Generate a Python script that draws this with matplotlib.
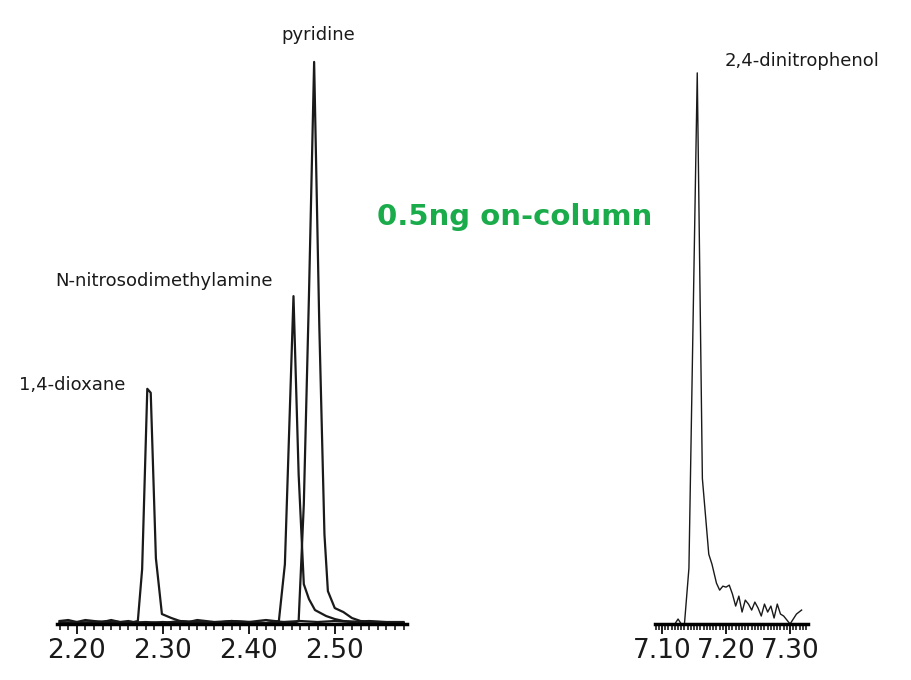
import matplotlib
matplotlib.use("Agg")
import matplotlib.pyplot as plt
from matplotlib.ticker import MultipleLocator

plt.rcParams['font.family'] = ['Liberation Sans Narrow', 'DejaVu Sans']

# ── Data (signal in arbitrary units above baseline) ─────────────────────
dioxane_t = [2.180, 2.190, 2.200, 2.210, 2.220, 2.230, 2.240, 2.250, 2.260, 2.266,
             2.271, 2.276, 2.282, 2.286, 2.292, 2.299, 2.310, 2.320, 2.330, 2.340,
             2.360, 2.380, 2.400, 2.420, 2.440, 2.460, 2.480, 2.500, 2.520, 2.540,
             2.560, 2.580]
dioxane_y = [3, 4, 2, 4, 3, 2, 4, 2, 3, 2,
             3, 55, 236, 232, 66, 10, 6, 3, 2, 4,
             2, 3, 2, 4, 2, 3, 2, 3, 2, 3,
             2, 2]

ndma_t = [2.180, 2.200, 2.220, 2.240, 2.260, 2.280, 2.300, 2.320, 2.340, 2.360,
          2.380, 2.400, 2.420, 2.435, 2.442, 2.452, 2.458, 2.464, 2.470, 2.477,
          2.490, 2.500, 2.510, 2.530, 2.550, 2.580]
ndma_y = [2, 1, 2, 3, 1, 2, 1, 3, 2, 1,
          3, 2, 1, 3, 60, 329, 150, 40, 25, 14,
          8, 5, 3, 2, 2, 1]

pyridine_t = [2.180, 2.200, 2.220, 2.240, 2.260, 2.280, 2.300, 2.320, 2.340, 2.360,
              2.380, 2.400, 2.420, 2.440, 2.452, 2.458, 2.464, 2.470, 2.476, 2.482,
              2.488, 2.492, 2.500, 2.510, 2.520, 2.530, 2.545, 2.560, 2.580]
pyridine_y = [1, 2, 1, 1, 2, 1, 2, 1, 2, 1,
              1, 2, 1, 2, 1, 3, 120, 330, 564, 300,
              90, 33, 16, 12, 6, 3, 2, 1, 1]

dnp_t = [7.090, 7.100, 7.110, 7.120, 7.125, 7.130, 7.135, 7.142, 7.155, 7.163,
         7.173, 7.178, 7.185, 7.190, 7.195, 7.200, 7.205, 7.210, 7.215, 7.220,
         7.225, 7.230, 7.235, 7.240, 7.245, 7.250, 7.255, 7.260, 7.265, 7.270,
         7.275, 7.280, 7.285, 7.290, 7.300, 7.310, 7.318]
dnp_y = [0, 0, 0, 0, 5, 0, 0, 56, 553, 146,
         70, 60, 41, 34, 38, 37, 39, 30, 18, 28,
         12, 24, 20, 14, 22, 16, 8, 20, 12, 18,
         6, 20, 10, 8, 0, 10, 14]

INK = "#1a1a1a"
GREEN = "#1aab4b"
YMAX = 586

fig = plt.figure(figsize=(9.12, 6.8), dpi=100)
ax1 = fig.add_axes([57 / 912, 54 / 680, 350 / 912, YMAX / 680])
ax2 = fig.add_axes([655 / 912, 54 / 680, 153 / 912, YMAX / 680])


def style(ax, xlim, major, minor):
    ax.set_xlim(*xlim)
    ax.set_ylim(-2, YMAX)
    for s in ['top', 'right', 'left']:
        ax.spines[s].set_visible(False)
    ax.spines['bottom'].set_linewidth(2.5)
    ax.spines['bottom'].set_position(('data', 0))
    ax.set_yticks([])
    ax.xaxis.set_major_locator(MultipleLocator(major))
    ax.xaxis.set_minor_locator(MultipleLocator(minor))
    ax.tick_params(axis='x', which='major', direction='out', length=7, width=1.4,
                   labelsize=19, pad=3, colors=INK)
    ax.tick_params(axis='x', which='minor', direction='out', length=4, width=1.2,
                   colors=INK)
    ax.patch.set_visible(False)


style(ax1, (2.177, 2.584), 0.05, 0.01)
ax1.set_xticks([2.20, 2.30, 2.40, 2.50])
ax1.set_xticks([2.25, 2.35, 2.45, 2.55], minor=False) if False else None
ax1.set_xticklabels(['2.20', '2.30', '2.40', '2.50'])
ax1.plot(dioxane_t, dioxane_y, color=INK, lw=1.6)
ax1.plot(ndma_t, ndma_y, color=INK, lw=1.6)
ax1.plot(pyridine_t, pyridine_y, color=INK, lw=1.6)

style(ax2, (7.089, 7.328), 0.1, 0.005)
ax2.set_xticks([7.10, 7.20, 7.30])
ax2.set_xticklabels(['7.10', '7.20', '7.30'])
ax2.plot(dnp_t, dnp_y, color=INK, lw=1.0)

lab = dict(fontsize=13, color=INK, ha='center', va='center')
fig.text(318 / 912, 1 - 35 / 680, "pyridine", **lab)
fig.text(164 / 912, 1 - 281 / 680, "N-nitrosodimethylamine", **lab)
fig.text(72 / 912, 1 - 385 / 680, "1,4-dioxane", **lab)
fig.text(802 / 912, 1 - 61 / 680, "2,4-dinitrophenol", **lab)
fig.text(515 / 912, 1 - 217 / 680, "0.5ng on-column", fontsize=21, fontweight='bold',
         color=GREEN, ha='center', va='center', family=['DejaVu Sans'])

fig.savefig("out.png", dpi=100, facecolor="white")
